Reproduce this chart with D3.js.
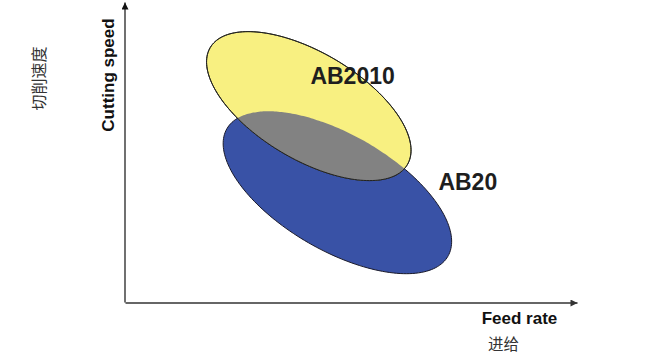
<!DOCTYPE html>
<html><head><meta charset="utf-8">
<script src="https://cdn.jsdelivr.net/npm/d3@7"></script>
<style>html,body{margin:0;padding:0;background:#fff;}</style>
</head><body>
<svg id="c" width="668" height="356"></svg>
<script>
// Data (abstract units, equal scale on both axes)
const seriesNames = ["AB20", "AB2010"];
const centerX = [53.1, 45.95];     // feed rate
const centerY = [27.5, 49.1];      // cutting speed
const semiMajor = [31.9, 28.66];
const semiMinor = [14.5, 13.37];
const tiltDeg = [-30, -30.75];
const labelX = [85.7, 56.9];
const labelY = [30.1, 56.75];
const xDomain = [0, 113];
const yDomain = [0, 75];
const xTitle = ["Feed rate", "进给"];
const yTitle = ["Cutting speed", "切削速度"];

const svg = d3.select("#c");
const x = d3.scaleLinear().domain(xDomain).range([125, 577]);
const y = d3.scaleLinear().domain(yDomain).range([302.5, 2.5]);

function ellipsePts(i) {
  const t = tiltDeg[i] * Math.PI / 180;
  return d3.range(0, 361, 2).map(d => {
    const p = d * Math.PI / 180;
    const ex = semiMajor[i] * Math.cos(p), ey = semiMinor[i] * Math.sin(p);
    return [x(centerX[i] + ex * Math.cos(t) - ey * Math.sin(t)),
            y(centerY[i] + ex * Math.sin(t) + ey * Math.cos(t))];
  });
}
const line = d3.line().curve(d3.curveCardinalClosed);
const colors = ["#3952a6", "#f8f081"];

const defs = svg.append("defs");
defs.append("clipPath").attr("id", "clipBlue").append("path").attr("d", line(ellipsePts(0)));
const mk = (id, color) => defs.append("marker").attr("id", id)
  .attr("viewBox", "0 0 10 10").attr("refX", 10).attr("refY", 5)
  .attr("markerWidth", 10).attr("markerHeight", 7).attr("markerUnits", "userSpaceOnUse")
  .attr("orient", "auto").append("path").attr("d", "M0,0L10,5L0,10Z").attr("fill", color);
mk("arrX", "#333"); mk("arrY", "#111");

// ellipses
svg.append("path").attr("d", line(ellipsePts(0))).attr("fill", colors[0]).attr("stroke", "#1a1a2a").attr("stroke-width", 1);
svg.append("path").attr("d", line(ellipsePts(1))).attr("fill", colors[1]).attr("stroke", "#2a2a1a").attr("stroke-width", 1);
svg.append("path").attr("d", line(ellipsePts(1))).attr("fill", "#828282").attr("clip-path", "url(#clipBlue)");
svg.append("path").attr("d", line(ellipsePts(1))).attr("fill", "none").attr("stroke", "#222").attr("stroke-width", 1);

// axes (no ticks)
const gx = svg.append("g").attr("transform", `translate(0,${y(0)})`)
  .call(d3.axisBottom(x).tickValues([]).tickSizeOuter(0));
gx.select(".domain").attr("stroke", "#333").attr("stroke-width", 1.5).attr("marker-end", "url(#arrX)");
const gy = svg.append("g").attr("transform", `translate(${x(0)},0)`)
  .call(d3.axisLeft(y).tickValues([]).tickSizeOuter(0));
gy.select(".domain").attr("stroke", "#111").attr("stroke-width", 1.2)
  .attr("d", `M0,${y(0)}V${y(yDomain[1])}`).attr("marker-end", "url(#arrY)");

// labels
svg.selectAll("text.lab").data(seriesNames).enter().append("text")
  .attr("x", (d, i) => x(labelX[i])).attr("y", (d, i) => y(labelY[i]))
  .attr("text-anchor", "middle").attr("dominant-baseline", "central")
  .attr("font-family", "Liberation Sans, Arial, sans-serif").attr("font-weight", "bold")
  .attr("font-size", 23).attr("fill", "#1e1e1e").text(d => d);

svg.append("text").attr("x", 519.5).attr("y", 318).attr("text-anchor", "middle")
  .attr("dominant-baseline", "central").attr("font-family", "Liberation Sans, Arial, sans-serif")
  .attr("font-weight", "bold").attr("font-size", 17).attr("fill", "#111").text(xTitle[0]);
svg.append("text").attr("x", 503.5).attr("y", 343).attr("text-anchor", "middle")
  .attr("dominant-baseline", "central").attr("font-family", "Noto Sans CJK SC, sans-serif")
  .attr("font-size", 15.5).attr("fill", "#333").text(xTitle[1]);
svg.append("text").attr("transform", "translate(108.5,75) rotate(-90)").attr("text-anchor", "middle")
  .attr("dominant-baseline", "central").attr("font-family", "Liberation Sans, Arial, sans-serif")
  .attr("font-weight", "bold").attr("font-size", 17).attr("fill", "#111").text(yTitle[0]);
svg.append("text").attr("transform", "translate(38,78.5) rotate(-90)").attr("text-anchor", "middle")
  .attr("dominant-baseline", "central").attr("font-family", "Noto Sans CJK SC, sans-serif")
  .attr("font-size", 16).attr("fill", "#333").text(yTitle[1]);
</script>
</body></html>
